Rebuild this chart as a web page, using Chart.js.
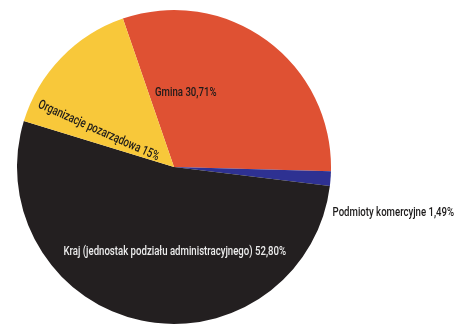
<!DOCTYPE html>
<html>
<head>
<meta charset="utf-8">
<script src="https://cdn.jsdelivr.net/npm/chart.js@4/dist/chart.umd.min.js"></script>
<style>
  html, body { margin: 0; padding: 0; background: #ffffff; }
  #wrap { width: 454px; height: 325px; }
</style>
</head>
<body>
<div id="wrap"><canvas id="c" width="454" height="325"></canvas></div>
<script>
// Struktura finansowania – udział procentowy
const categories = ['Gmina', 'Podmioty komercyjne', 'Kraj (jednostak podziału administracyjnego)', 'Organizacje pozarządowa'];
const shares = [30.71, 1.49, 52.80, 15];
const shareLabels = ['30,71%', '1,49%', '52,80%', '15%'];
const sliceColors = ['#DF5133', '#2E3192', '#231F20', '#F8C83A'];

// Label placement relative to the pie centre, in units of the outer radius
const labelPlacement = [
  { dx: 0.075, dy: -0.47, angle: 0,  align: 'center', color: '#1c1a1a' },
  { dx: 1.01,  dy: 0.29,  angle: 0,  align: 'left',   color: '#1c1a1a' },
  { dx: 0.005, dy: 0.54,  angle: 0,  align: 'center', color: '#ececec' },
  { dx: -0.48, dy: -0.23, angle: 24, align: 'center', color: '#1c1a1a' }
];

// Narrow, medium-weight lettering (horizontally condensed)
const FONT = '500 13px Roboto, "DejaVu Sans", sans-serif';
const CONDENSE = 0.74;

const sliceLabels = {
  id: 'sliceLabels',
  afterDatasetsDraw(chart) {
    const ctx = chart.ctx;
    const meta = chart.getDatasetMeta(0);
    meta.data.forEach((arc, i) => {
      const p = labelPlacement[i];
      const r = arc.outerRadius;
      const text = categories[i] + ' ' + shareLabels[i];
      ctx.save();
      ctx.translate(arc.x + p.dx * r, arc.y + p.dy * r);
      ctx.rotate(p.angle * Math.PI / 180);
      ctx.scale(CONDENSE, 1);
      ctx.font = FONT;
      ctx.fillStyle = p.color;
      ctx.textAlign = p.align;
      ctx.textBaseline = 'middle';
      ctx.fillText(text, 0, 0);
      ctx.restore();
    });
  }
};

new Chart(document.getElementById('c'), {
  type: 'pie',
  data: {
    labels: categories,
    datasets: [{
      data: shares,
      backgroundColor: sliceColors,
      borderWidth: 0
    }]
  },
  options: {
    responsive: false,
    animation: false,
    rotation: -19,
    layout: { padding: { left: 17, right: 123, top: 10, bottom: 1 } },
    plugins: {
      legend: { display: false },
      tooltip: { enabled: false }
    }
  },
  plugins: [sliceLabels]
});
</script>
</body>
</html>
